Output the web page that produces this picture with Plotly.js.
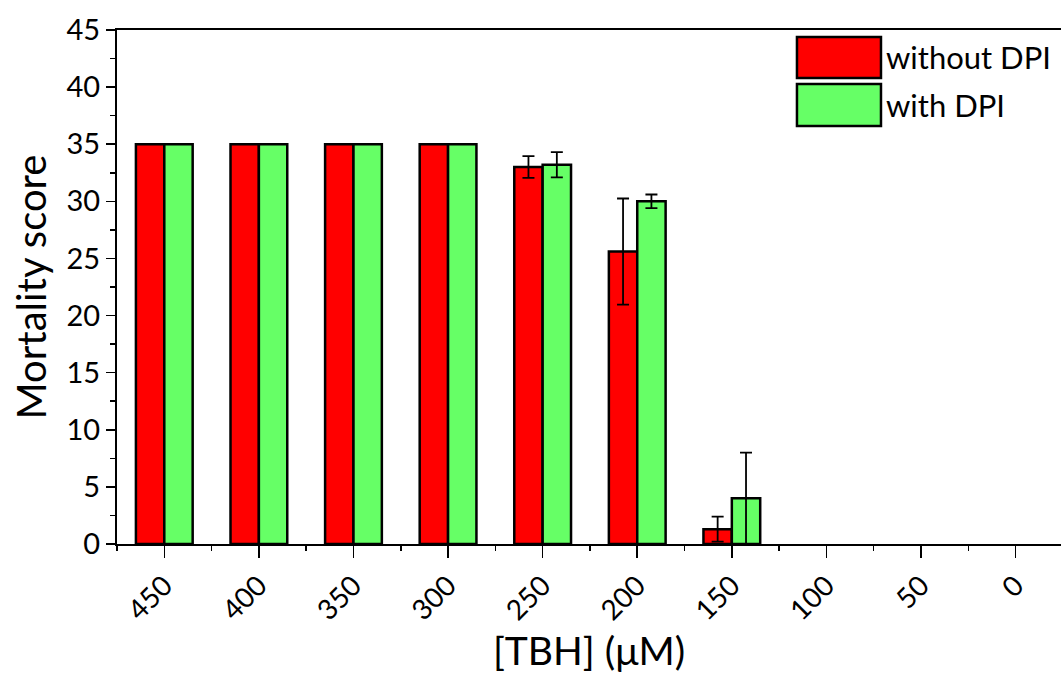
<!DOCTYPE html>
<html>
<head>
<meta charset="utf-8">
<script src="https://cdn.plot.ly/plotly-3.0.1.min.js"></script>
<style>html,body{margin:0;padding:0;background:#fff;}#chart{width:1061px;height:678px;}</style>
</head>
<body>
<div id="chart"></div>
<script>
const categories = ["450","400","350","300","250","200","150","100","50","0"];
const withoutDPI = [35, 35, 35, 35, 33.0, 25.6, 1.3, 0, 0, 0];
const withoutDPIErr = [0, 0, 0, 0, 0.95, 4.65, 1.1, 0, 0, 0];
const withDPI = [35, 35, 35, 35, 33.2, 30.0, 4.0, 0, 0, 0];
const withDPIErr = [0, 0, 0, 0, 1.1, 0.6, 4.0, 0, 0, 0];
const seriesNames = ["without DPI", "with DPI"];
const seriesColors = ["#FF0000", "#66FF66"];

const xs = categories.map((c, i) => i);
const font = "Lato, 'Open Sans', sans-serif";

function barTrace(name, y, err, color) {
  return {
    type: "bar", x: xs, y: y, name: name,
    marker: {color: color, line: {color: "#000", width: y.map(v => v === 0 ? 0 : 2.5)}},
    error_y: {type: "data", array: err.map(e => e === 0 ? NaN : e), visible: true, color: "#000", thickness: 1.8, width: 6},
    hoverinfo: "x+y"
  };
}

const data = [
  barTrace(seriesNames[0], withoutDPI, withoutDPIErr, seriesColors[0]),
  barTrace(seriesNames[1], withDPI, withDPIErr, seriesColors[1])
];

const legX0 = 0.7203, legX1 = 0.8093;
const legRows = [[0.9864, 0.9066], [0.8949, 0.8132]];
const shapes = [], annotations = [];
seriesNames.forEach((n, i) => {
  shapes.push({type: "rect", xref: "paper", yref: "paper", x0: legX0, x1: legX1,
    y0: legRows[i][1], y1: legRows[i][0], fillcolor: seriesColors[i], line: {color: "#000", width: 2.5}});
  annotations.push({xref: "paper", yref: "paper", x: legX1 + 0.003, y: (legRows[i][0] + legRows[i][1]) / 2,
    xanchor: "left", yanchor: "middle", text: n, showarrow: false, font: {family: font, size: 31, color: "#000"}});
});

const layout = {
  width: 1061, height: 678,
  margin: {l: 117, r: 0, t: 30, b: 134},
  paper_bgcolor: "#fff", plot_bgcolor: "#fff",
  barmode: "group", bargap: 0.4, bargroupgap: 0,
  showlegend: false,
  font: {family: font, color: "#000"},
  xaxis: {
    range: [-0.5, 9.48],
    tickmode: "array", tickvals: xs, ticktext: categories,
    tickangle: -45,
    tickfont: {family: font, size: 28},
    ticks: "outside", ticklen: 12, tickwidth: 1.5, tickcolor: "#000",
    minor: {ticks: "outside", ticklen: 5, tickwidth: 1.5, tickcolor: "#000", dtick: 1, tick0: 0.5, showgrid: false},
    showline: true, linecolor: "#000", linewidth: 2, mirror: true,
    showgrid: false, zeroline: false,
    title: {text: "[TBH] (μM)", font: {family: font, size: 39}, standoff: 12}
  },
  yaxis: {
    range: [0, 45], dtick: 5, tick0: 0,
    tickfont: {family: font, size: 29},
    ticks: "outside", ticklen: 9, tickwidth: 1.5, tickcolor: "#000",
    minor: {ticks: "outside", ticklen: 5, tickwidth: 1.5, tickcolor: "#000", dtick: 2.5, showgrid: false},
    showline: true, linecolor: "#000", linewidth: 2,
    showgrid: false, zeroline: false,
    title: {text: "Mortality score", font: {family: font, size: 40}, standoff: 8}
  },
  shapes: shapes,
  annotations: annotations
};

Plotly.newPlot("chart", data, layout, {displayModeBar: false, staticPlot: true});
</script>
</body>
</html>
